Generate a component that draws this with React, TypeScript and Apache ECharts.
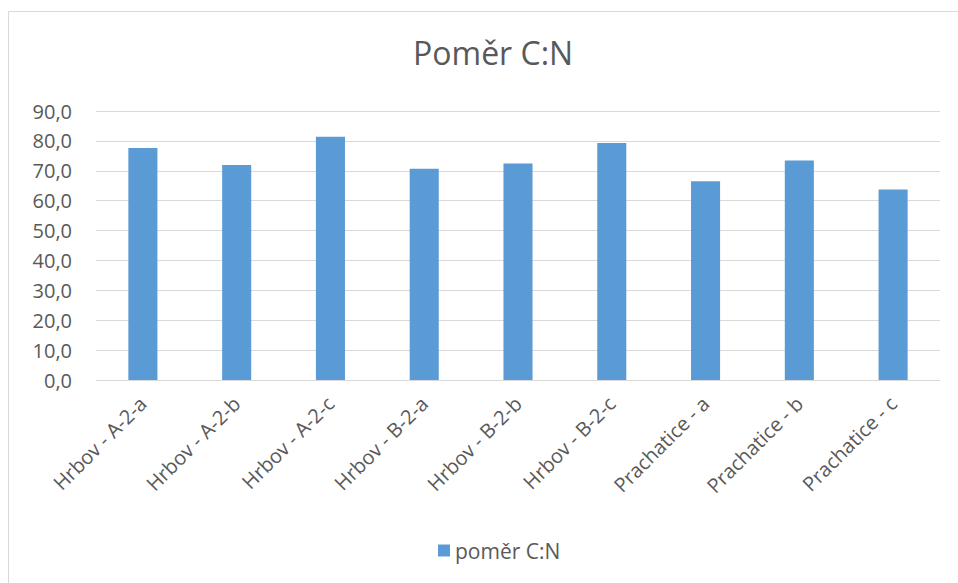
import React, { useEffect, useRef } from "react";
import * as echarts from "echarts";

const categories = [
  "Hrbov - A-2-a",
  "Hrbov - A-2-b",
  "Hrbov - A-2-c",
  "Hrbov - B-2-a",
  "Hrbov - B-2-b",
  "Hrbov - B-2-c",
  "Prachatice - a",
  "Prachatice - b",
  "Prachatice - c",
];
const seriesName = "poměr C:N";
const values = [77.6, 71.9, 81.4, 70.7, 72.4, 79.3, 66.5, 73.4, 63.7];
const titleText = "Poměr C:N";

const FONT = "'Open Sans', 'Noto Sans', sans-serif";
const TEXT = "#595959";

export default function App() {
  const ref = useRef<HTMLDivElement>(null);
  useEffect(() => {
    if (!ref.current) return;
    const chart = echarts.init(ref.current, undefined, { renderer: "svg" });
    chart.setOption({
      animation: false,
      backgroundColor: "#ffffff",
      textStyle: { fontFamily: FONT },
      graphic: [
        {
          type: "rect",
          shape: { x: 8.5, y: 11.5, width: 960, height: 600 },
          style: { fill: "none", stroke: "#d9d9d9", lineWidth: 1 },
          silent: true,
          z: -10,
        },
      ],
      title: {
        text: titleText,
        left: 408,
        top: 31,
        textStyle: { fontFamily: FONT, fontSize: 32, fontWeight: "normal", color: TEXT },
      },
      legend: {
        data: [seriesName],
        bottom: 17,
        left: 433,
        itemWidth: 12,
        itemHeight: 12,
        itemGap: 8,
        icon: "rect",
        textStyle: { fontFamily: FONT, fontSize: 21, color: TEXT },
      },
      grid: { left: 96, right: 18, top: 111, bottom: 203, containLabel: false },
      xAxis: {
        type: "category",
        data: categories,
        axisLine: { show: true, lineStyle: { color: "#d9d9d9", width: 1 } },
        axisTick: { show: false },
        axisLabel: {
          rotate: 45,
          interval: 0,
          margin: 20,
          fontFamily: FONT,
          fontSize: 20,
          color: TEXT,
        },
      },
      yAxis: {
        type: "value",
        min: 0,
        max: 90,
        interval: 10,
        axisLine: { show: false },
        axisTick: { show: false },
        splitLine: { lineStyle: { color: "#d9d9d9", width: 1 } },
        axisLabel: {
          margin: 24,
          fontFamily: FONT,
          fontSize: 20,
          color: TEXT,
          formatter: (v: number) => v.toFixed(1).replace(".", ","),
        },
      },
      series: [
        {
          name: seriesName,
          type: "bar",
          data: values,
          barWidth: "31%",
          itemStyle: { color: "#5b9bd5" },
        },
      ],
    });
    return () => chart.dispose();
  }, []);
  return (
    <div
      ref={ref}
      style={{ position: "absolute", left: 0, top: 0, width: 958, height: 583 }}
    />
  );
}
